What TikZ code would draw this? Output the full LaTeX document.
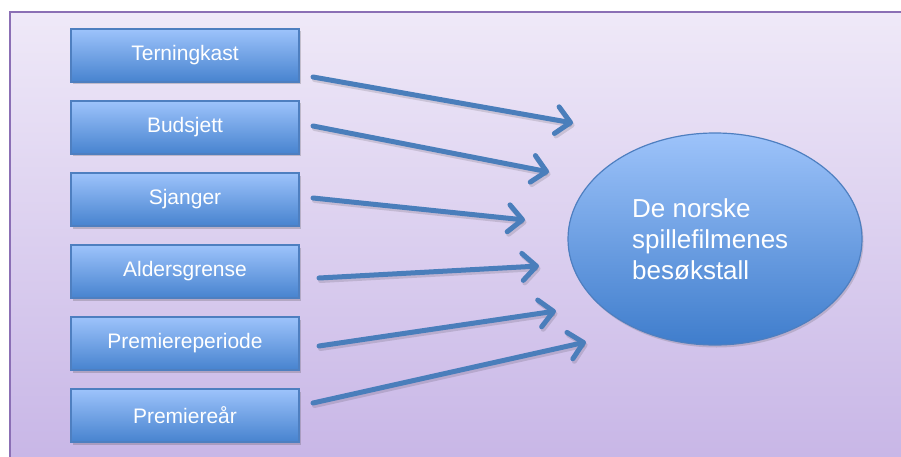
\documentclass[tikz,border=0pt]{standalone}
\usepackage{fontspec}
\setmainfont{Liberation Sans}
\usetikzlibrary{shapes.geometric,arrows.meta,shadows}
\definecolor{frameTop}{HTML}{EFE9F8}
\definecolor{frameBot}{HTML}{C7B5E6}
\definecolor{frameLine}{HTML}{8B6FB5}
\definecolor{boxTop}{HTML}{9DC3FB}
\definecolor{boxBot}{HTML}{4783CF}
\definecolor{boxLine}{HTML}{4E7FC0}
\definecolor{ellTop}{HTML}{9DC3FA}
\definecolor{ellBot}{HTML}{3F7DCC}
\definecolor{arrowCol}{HTML}{4A7EBB}
\tikzset{
  factor/.style={draw=boxLine, line width=1.2pt, top color=boxTop, bottom color=boxBot,
    minimum width=228pt, minimum height=53pt, inner sep=0pt, text=white,
    font=\fontsize{21}{25}\selectfont,
    drop shadow={shadow xshift=1.5pt, shadow yshift=-2.5pt, opacity=0.25, fill=black!70}},
  goalshape/.style={ellipse, draw=boxLine, line width=1.2pt, top color=ellTop, bottom color=ellBot,
    minimum width=294pt, minimum height=212pt, inner sep=0pt,
    drop shadow={shadow xshift=1.5pt, shadow yshift=-2.5pt, opacity=0.2, fill=black!70}},
  goaltxt/.style={text=white, align=left, inner sep=0pt, anchor=north west,
    font=\fontsize{26}{31}\selectfont},
  link/.style={draw=arrowCol, line width=5pt, line cap=round,
    -{Straight Barb[length=14pt, width=27pt, line cap=round, line join=round]}},
  linkshadow/.style={draw=black, opacity=0.12, line width=5pt, line cap=round,
    -{Straight Barb[length=14pt, width=27pt, line cap=round, line join=round]}}
}
\begin{document}
\begin{tikzpicture}[x=1pt, y=-1pt]
  \useasboundingbox (0,0) rectangle (901,457);
  \fill[white] (0,0) rectangle (901,457);
  \shade[top color=frameTop, bottom color=frameBot, draw=frameLine, line width=2pt]
    (10,12.5) rectangle (910,470);

  \node[factor] (b1) at (185,55.5) {Terningkast};
  \node[factor] (b2) at (185,127.5) {Budsjett};
  \node[factor] (b3) at (185,199.5) {Sjanger};
  \node[factor] (b4) at (185,271.5) {Aldersgrense};
  \node[factor] (b5) at (185,343.5) {Premiereperiode};
  \node[factor] (b6) at (185,415.5) {Premiereår};

  \node[goalshape] (goal) at (715,239) {};
  \node[goaltxt] (goaltext) at (632,198) {De norske\\spillefilmenes\\besøkstall};

  \coordinate (s1) at (313,77);  \coordinate (e1) at (573,123);
  \coordinate (s2) at (313,126); \coordinate (e2) at (549,172);
  \coordinate (s3) at (313,198); \coordinate (e3) at (525,220);
  \coordinate (s4) at (319,278); \coordinate (e4) at (539,266);
  \coordinate (s5) at (319,346); \coordinate (e5) at (556,311);
  \coordinate (s6) at (313,403); \coordinate (e6) at (586,342);

  \foreach \i in {1,...,6} {
    \draw[linkshadow, transform canvas={xshift=1.5pt, yshift=-2.5pt}] (s\i) -- (e\i);
  }
  \foreach \i in {1,...,6} {
    \draw[link] (s\i) -- (e\i);
  }
\end{tikzpicture}
\end{document}
